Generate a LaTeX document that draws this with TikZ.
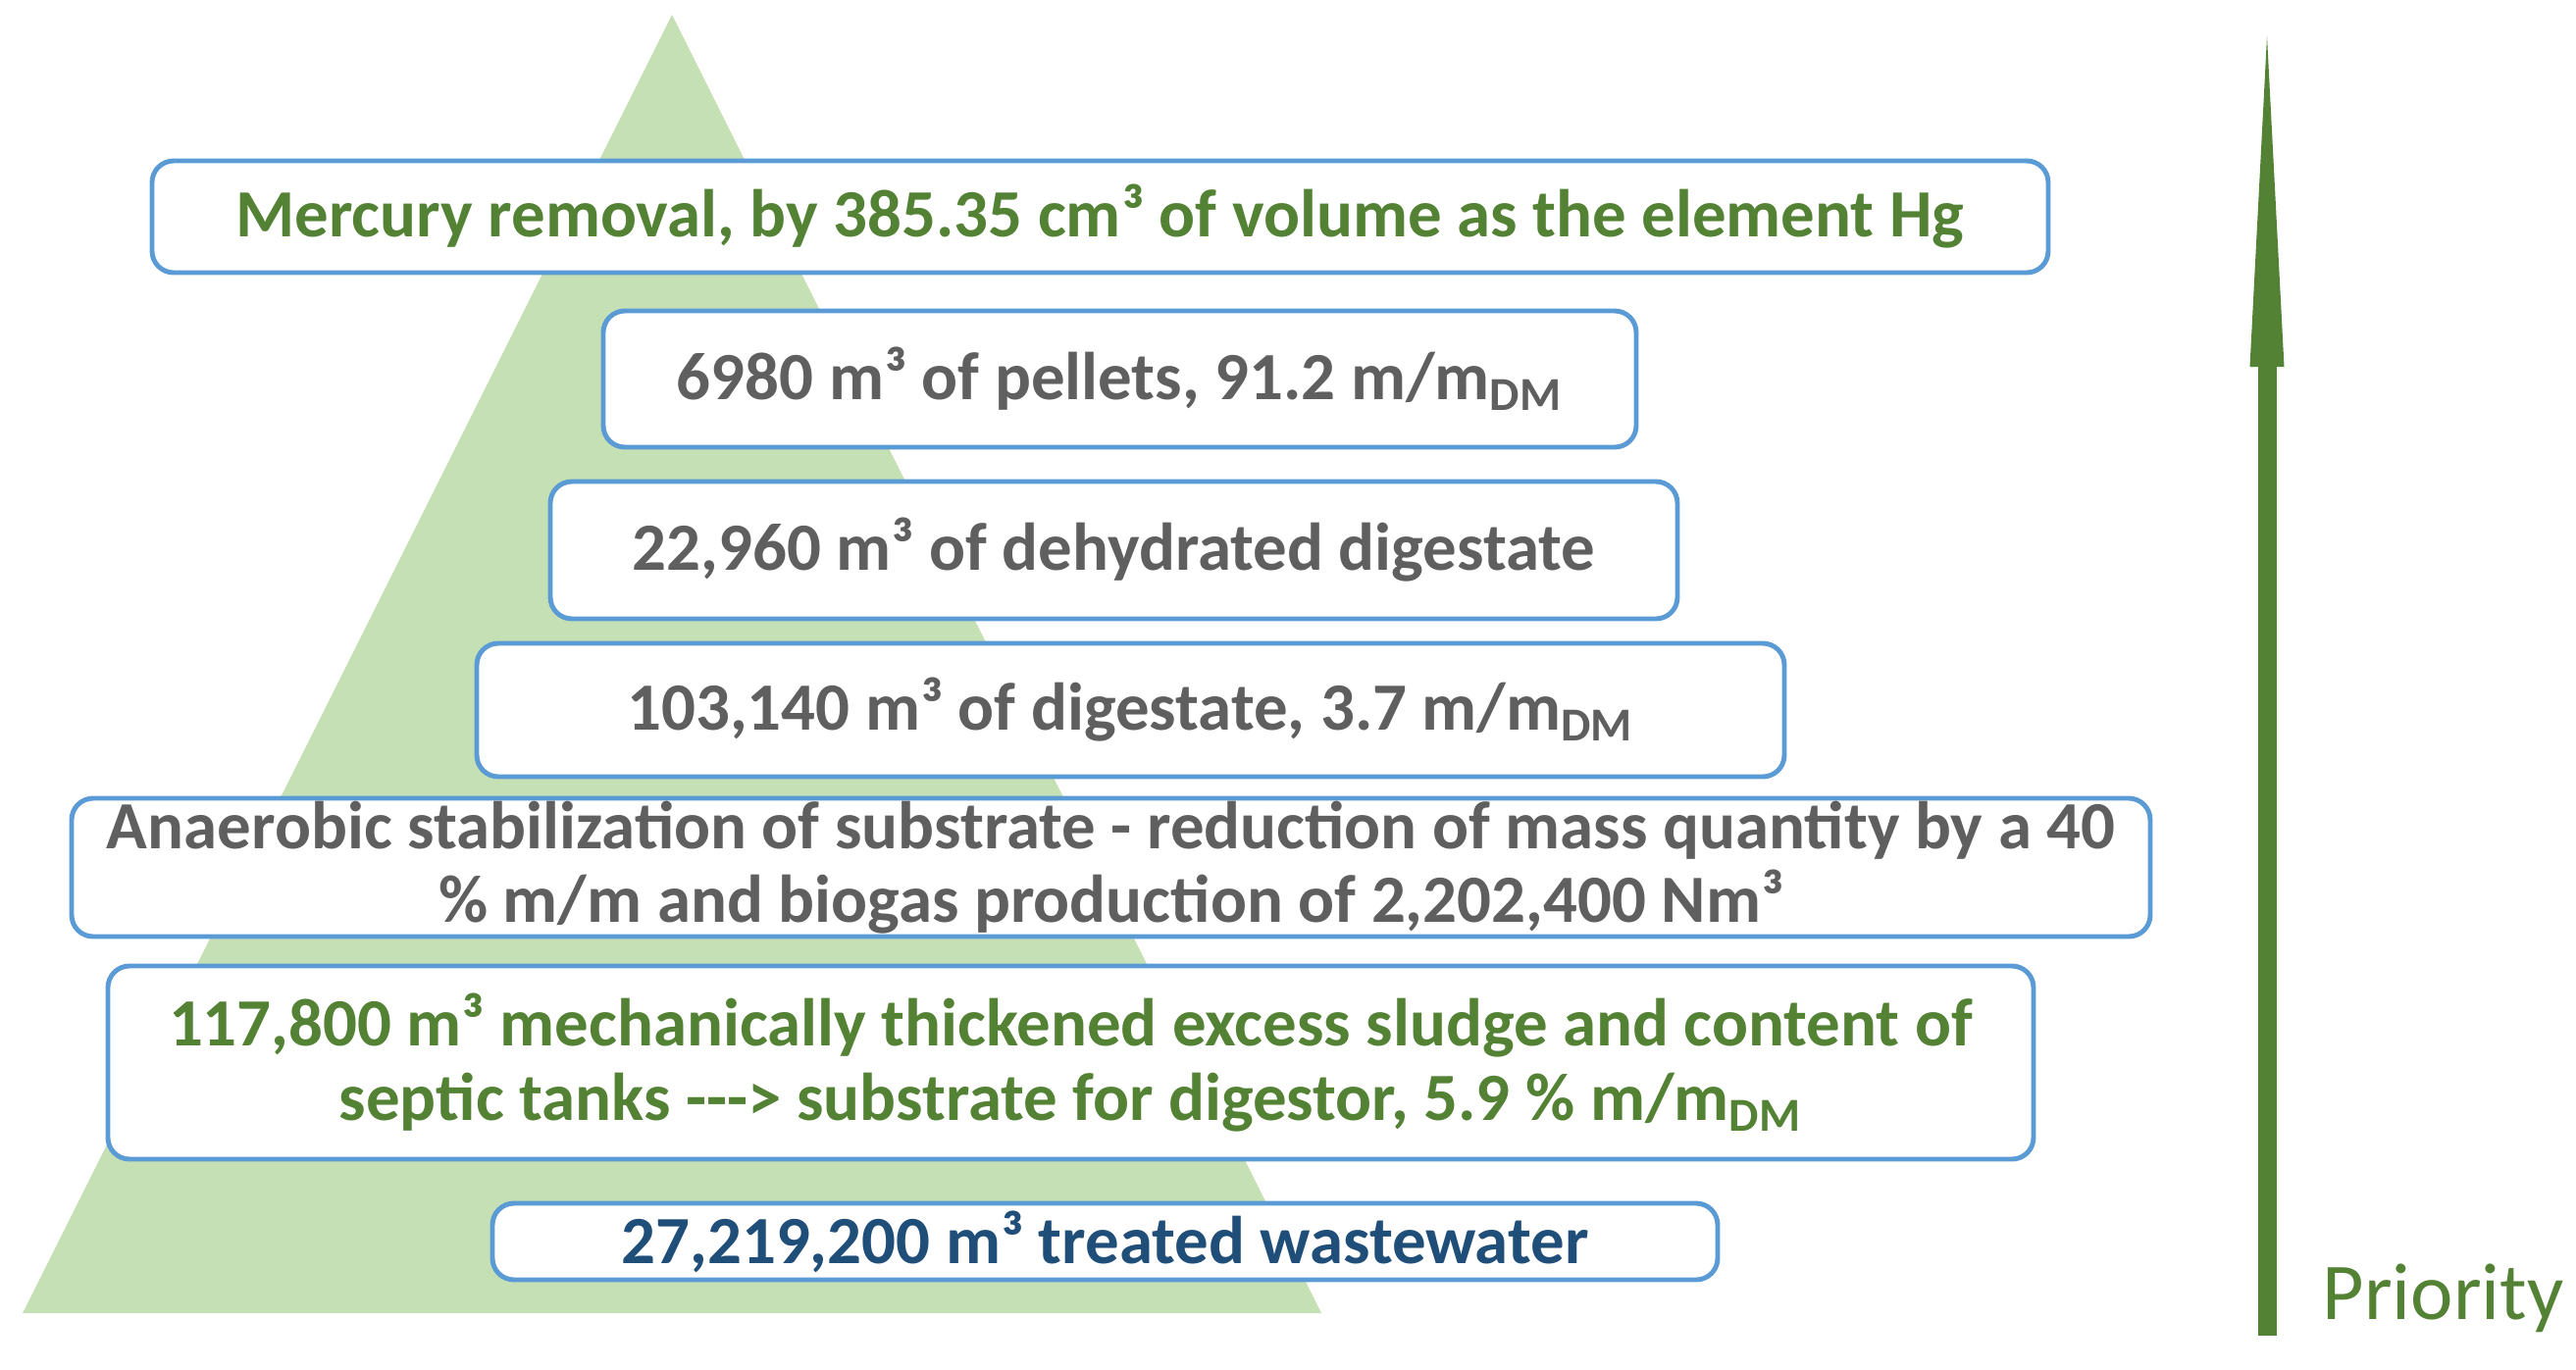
\documentclass[tikz,border=0pt]{standalone}
\usepackage{fontspec}
\newfontfamily\boxfont{Carlito}
\usetikzlibrary{arrows.meta}
\definecolor{pyrgreen}{HTML}{C5E0B4}
\definecolor{boxblue}{HTML}{5B9BD5}
\definecolor{txtgreen}{HTML}{548235}
\definecolor{txtgray}{HTML}{5F5F5F}
\definecolor{txtblue}{HTML}{1F4E79}

\begin{document}
\begin{tikzpicture}[
  lvl/.style={draw=boxblue, line width=1.4pt, fill=white, rounded corners=0.22cm,
    align=center, inner sep=0pt, font=\boxfont\bfseries\fontsize{19.6}{21.5}\selectfont}]
\useasboundingbox (0,0) rectangle (26.26,-13.96);

% pyramid behind the levels
\fill[pyrgreen] (6.85,-0.15) -- (0.23,-13.39) -- (13.47,-13.39) -- cycle;

\node[lvl, text=txtgreen, minimum width=19.33cm, minimum height=1.14cm] (hg) at (11.215,-2.21)
  {Mercury removal, by 385.35 cm³ of volume as the element Hg};
\node[lvl, text=txtgray, minimum width=10.53cm, minimum height=1.39cm] (pel) at (11.415,-3.865)
  {6980 m³ of pellets, 91.2 m/m\textsubscript{DM}};
\node[lvl, text=txtgray, minimum width=11.49cm, minimum height=1.40cm] (dehy) at (11.355,-5.61)
  {22,960 m³ of dehydrated digestate};
\node[lvl, text=txtgray, minimum width=13.33cm, minimum height=1.36cm] (dig) at (11.525,-7.24)
  {103,140 m³ of digestate, 3.7 m/m\textsubscript{DM}};
\node[lvl, text=txtgray, minimum width=21.19cm, minimum height=1.41cm] (an) at (11.325,-8.845)
  {Anaerobic stabilization of substrate - reduction of mass quantity by a 40\\
   \% m/m and biogas production of 2,202,400 Nm³};
\node[lvl, text=txtgreen, minimum width=19.63cm, minimum height=1.97cm] (sub) at (10.915,-10.835)
  {117,800 m³ mechanically thickened excess sludge and content of\\
   septic tanks {-}{-}{-}> substrate for digestor, 5.9 \% m/m\textsubscript{DM}};
\node[lvl, text=txtblue, minimum width=12.49cm, minimum height=0.78cm] (ww) at (11.265,-12.66)
  {27,219,200 m³ treated wastewater};

%\draw (23.11,0) -- (23.11,-14);
\coordinate (pb) at (23.11,-13.62);
\coordinate (pt) at (23.11,-0.37);
\draw[txtgreen, line width=0.19cm, -{Triangle[length=3.37cm, width=0.35cm, line width=0pt]}] (pb) -- (pt);
\node[anchor=base west, inner sep=0pt, text=txtgreen, font=\boxfont\fontsize{23.4}{28}\selectfont] (prio) at (23.67,-13.45) {Priority};
\end{tikzpicture}
\end{document}
